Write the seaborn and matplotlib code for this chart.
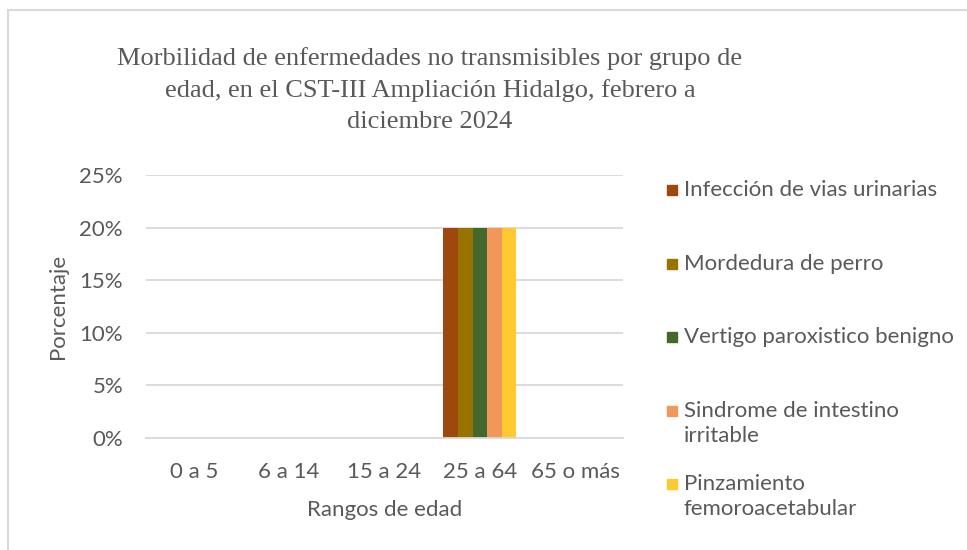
import pandas as pd
import seaborn as sns
import matplotlib.pyplot as plt
from matplotlib.patches import Rectangle

# data
grupos = ['0 a 5', '6 a 14', '15 a 24', '25 a 64', '65 o más']
enfermedades = ['Infección de vias urinarias', 'Mordedura de perro',
                'Vertigo paroxistico benigno', 'Sindrome de intestino irritable',
                'Pinzamiento femoroacetabular']
infeccion = [0, 0, 0, 0.20, 0]
mordedura = [0, 0, 0, 0.20, 0]
vertigo = [0, 0, 0, 0.20, 0]
sindrome = [0, 0, 0, 0.20, 0]
pinzamiento = [0, 0, 0, 0.20, 0]
legend_labels = ['Infección de vias urinarias', 'Mordedura de perro',
                 'Vertigo paroxistico benigno', 'Sindrome de intestino\nirritable',
                 'Pinzamiento\nfemoroacetabular']
colores = ['#9E480E', '#997300', '#43682B', '#F1975A', '#FFCA30']

series = [infeccion, mordedura, vertigo, sindrome, pinzamiento]
rows = []
for nombre, vals in zip(enfermedades, series):
    for g, v in zip(grupos, vals):
        rows.append({'grupo': g, 'enfermedad': nombre, 'valor': v})
df = pd.DataFrame(rows)

sns.set_style('white')
plt.rcParams['font.family'] = ['Lato', 'DejaVu Sans']
gris = '#595959'
linea = '#D9D9D9'

W, H = 967, 550
fig = plt.figure(figsize=(W / 100, H / 100), dpi=100)
ax = fig.add_axes([146 / W, 1 - 438 / H, (623 - 146) / W, (438 - 175) / H])

sns.barplot(data=df, x='grupo', y='valor', hue='enfermedad', order=grupos,
            hue_order=enfermedades, palette=colores, width=0.765,
            saturation=1, linewidth=0, legend=False, ax=ax)

ax.set_ylim(0, 0.25)
ax.set_yticks([0, 0.05, 0.10, 0.15, 0.20, 0.25])
ax.set_yticklabels(['0%', '5%', '10%', '15%', '20%', '25%'])
ax.grid(axis='y', color=linea, linewidth=1.3)
ax.set_axisbelow(True)
for s in ['top', 'right', 'left']:
    ax.spines[s].set_visible(False)
ax.spines['bottom'].set_color(linea)
ax.spines['bottom'].set_linewidth(1.3)
ax.tick_params(axis='both', length=0, labelsize=16, colors=gris)
ax.tick_params(axis='y', pad=16.5)
ax.tick_params(axis='x', pad=17)
ax.set_xlabel('Rangos de edad', fontsize=16, color=gris, labelpad=13)
ax.set_ylabel('Porcentaje', fontsize=16, color=gris, labelpad=8)

# title
fig.text(430 / W, 1 - 47 / H,
         'Morbilidad de enfermedades no transmisibles por grupo de\n'
         'edad, en el CST-III Ampliación Hidalgo, febrero a\n'
         'diciembre 2024',
         ha='center', va='top', fontsize=19, color=gris,
         family='Liberation Serif', linespacing=1.52)

# legend
ys = [190, 264, 337, 411, 484]
for lab, c, y in zip(legend_labels, colores, ys):
    fig.add_artist(Rectangle((667 / W, 1 - (y + 5) / H), 10 / W, 10 / H,
                             transform=fig.transFigure, color=c))
    fig.text(684 / W, 1 - (y - 10) / H, lab, ha='left', va='top',
             fontsize=16, color=gris, linespacing=1.3)

# chart frame
fig.add_artist(Rectangle((7.5 / W, -0.1), 2, 1 - 10.5 / H + 0.1,
                         transform=fig.transFigure, fill=False,
                         ec=linea, lw=1.5, clip_on=False))

plt.savefig('out.png', dpi=100)
